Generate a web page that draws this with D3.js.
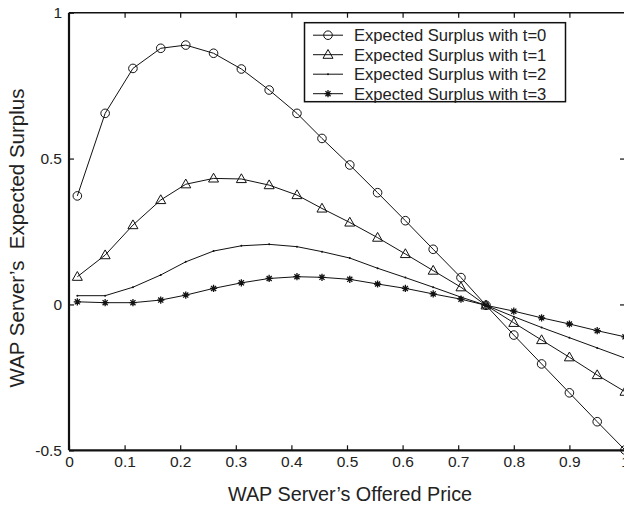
<!DOCTYPE html>
<html>
<head>
<meta charset="utf-8">
<script src="https://cdn.jsdelivr.net/npm/d3@7"></script>
<style>
  body { margin: 0; background: #fff; }
  svg { display: block; font-family: "Liberation Sans", Arial, sans-serif; }
</style>
</head>
<body>
<div id="chart"></div>
<script>
// offered price (x)
const prices = [0.015, 0.065, 0.115, 0.165, 0.21, 0.26, 0.31, 0.36, 0.41, 0.455, 0.505,
                0.555, 0.605, 0.655, 0.705, 0.75, 0.80, 0.85, 0.90, 0.95, 1.0];

// expected surplus for each t
const surplusT0 = [0.372, 0.655, 0.809, 0.878, 0.889, 0.861, 0.807, 0.735, 0.655, 0.569, 0.478,
                   0.383, 0.287, 0.189, 0.092, -0.003, -0.105, -0.204, -0.303, -0.402, -0.499];
const surplusT1 = [0.095, 0.169, 0.272, 0.358, 0.412, 0.432, 0.430, 0.409, 0.375, 0.329, 0.281,
                   0.229, 0.173, 0.116, 0.059, -0.003, -0.063, -0.122, -0.181, -0.242, -0.299];
const surplusT2 = [0.030, 0.030, 0.059, 0.101, 0.146, 0.183, 0.201, 0.206, 0.198, 0.181, 0.159,
                   0.124, 0.092, 0.059, 0.025, -0.003, -0.042, -0.079, -0.114, -0.149, -0.184];
const surplusT3 = [0.009, 0.006, 0.006, 0.015, 0.032, 0.055, 0.074, 0.089, 0.095, 0.093, 0.086,
                   0.070, 0.055, 0.036, 0.018, -0.003, -0.023, -0.046, -0.067, -0.090, -0.111];

const seriesNames = ['Expected Surplus with t=0', 'Expected Surplus with t=1',
                     'Expected Surplus with t=2', 'Expected Surplus with t=3'];
const seriesMarkers = ['circle', 'triangle', 'dot', 'star'];

const xTicks = [0, 0.1, 0.2, 0.3, 0.4, 0.5, 0.6, 0.7, 0.8, 0.9, 1];
const xTickLabels = ['0', '0.1', '0.2', '0.3', '0.4', '0.5', '0.6', '0.7', '0.8', '0.9', '1'];
const yTicks = [-0.5, 0, 0.5, 1];
const yTickLabels = ['-0.5', '0', '0.5', '1'];

const W = 624, H = 507;
const margin = { top: 12.7, right: -1, bottom: 56.7, left: 69 };
const width = W - margin.left - margin.right;
const height = H - margin.top - margin.bottom;

const svg = d3.select('#chart').append('svg')
  .attr('width', W)
  .attr('height', H);

const g = svg.append('g')
  .attr('transform', `translate(${margin.left},${margin.top})`);

const x = d3.scaleLinear().domain([0, 1]).range([0, width]);
const y = d3.scaleLinear().domain([-0.5, 1]).range([height, 0]);

// matlab style: ticks inward on all four sides
const tickLen = 5;
g.append('g')
  .attr('transform', `translate(0,${height})`)
  .call(d3.axisBottom(x).tickValues(xTicks).tickSizeInner(-tickLen).tickSizeOuter(0)
    .tickFormat((d, i) => xTickLabels[i]))
  .call(a => a.select('.domain').remove())
  .call(a => a.selectAll('text').attr('dy', '0').attr('y', 17).style('font-size', '15.5px').attr('fill', '#222'));

g.append('g')
  .call(d3.axisTop(x).tickValues(xTicks.slice(1, -1)).tickSizeInner(-tickLen).tickSizeOuter(0).tickFormat(''))
  .call(a => a.select('.domain').remove());

g.append('g')
  .call(d3.axisLeft(y).tickValues(yTicks).tickSizeInner(-tickLen).tickSizeOuter(0)
    .tickFormat((d, i) => yTickLabels[i]))
  .call(a => a.select('.domain').remove())
  .call(a => a.selectAll('text').attr('x', -7).style('font-size', '15.5px').attr('fill', '#222'));

g.append('g')
  .attr('transform', `translate(${width},0)`)
  .call(d3.axisRight(y).tickValues(yTicks.slice(1, -1)).tickSizeInner(-tickLen).tickSizeOuter(0).tickFormat(''))
  .call(a => a.select('.domain').remove());

g.selectAll('.tick line').attr('stroke', '#111').attr('stroke-width', 1.2);

// frame
g.append('line').attr('x1', 0).attr('x2', width).attr('y1', 0).attr('y2', 0)
  .attr('stroke', '#111').attr('stroke-width', 1.5);
g.append('line').attr('x1', width).attr('x2', width).attr('y1', 0).attr('y2', height)
  .attr('stroke', '#111').attr('stroke-width', 1.5);
g.append('line').attr('x1', 0).attr('x2', width).attr('y1', height).attr('y2', height)
  .attr('stroke', '#111').attr('stroke-width', 2.2);
g.append('line').attr('x1', 0).attr('x2', 0).attr('y1', 0).attr('y2', height)
  .attr('stroke', '#111').attr('stroke-width', 2.2);

const allSeries = [surplusT0, surplusT1, surplusT2, surplusT3];

const line = d3.line()
  .x((d, i) => x(prices[i]))
  .y(d => y(d));

function drawMarker(sel, type) {
  if (type === 'circle') {
    sel.append('circle').attr('r', 4.3).attr('fill', 'none').attr('stroke', '#111').attr('stroke-width', 1);
  } else if (type === 'triangle') {
    sel.append('path').attr('d', 'M0,-5.2L5,3.6L-5,3.6Z')
      .attr('fill', 'none').attr('stroke', '#111').attr('stroke-width', 1);
  } else if (type === 'dot') {
    sel.append('circle').attr('r', 1).attr('fill', '#111');
  } else if (type === 'star') {
    const r = 3.6;
    let d = '';
    for (let k = 0; k < 4; k++) {
      const a = k * Math.PI / 4;
      d += `M${-r * Math.cos(a)},${-r * Math.sin(a)}L${r * Math.cos(a)},${r * Math.sin(a)}`;
    }
    sel.append('path').attr('d', d).attr('stroke', '#111').attr('stroke-width', 1.3);
  }
}

allSeries.forEach((vals, si) => {
  g.append('path')
    .datum(vals)
    .attr('d', line)
    .attr('fill', 'none')
    .attr('stroke', '#111')
    .attr('stroke-width', 1);

  g.selectAll(`.m${si}`)
    .data(vals)
    .enter().append('g')
    .attr('class', `m${si}`)
    .attr('transform', (d, i) => `translate(${x(prices[i])},${y(d)})`)
    .each(function () { drawMarker(d3.select(this), seriesMarkers[si]); });
});

// legend
const legend = svg.append('g').attr('transform', 'translate(304.5,22.7)');
legend.append('rect')
  .attr('width', 261).attr('height', 79)
  .attr('fill', '#fff').attr('stroke', '#111').attr('stroke-width', 1.5);

seriesNames.forEach((name, i) => {
  const row = legend.append('g').attr('transform', `translate(0,${12.5 + i * 19.5})`);
  row.append('line').attr('x1', 8.5).attr('x2', 38.5)
    .attr('stroke', '#111').attr('stroke-width', 1);
  const m = row.append('g').attr('transform', 'translate(23.5,0)');
  drawMarker(m, seriesMarkers[i]);
  row.append('text')
    .attr('x', 49.5).attr('dy', '0.36em')
    .style('font-size', '16.6px').attr('fill', '#222')
    .text(name);
});

// axis titles
svg.append('text')
  .attr('x', 350).attr('y', 500.5)
  .attr('text-anchor', 'middle')
  .style('font-size', '19.8px').attr('fill', '#222')
  .text('WAP Server\u2019s Offered Price');

svg.append('text')
  .attr('transform', 'translate(24,238) rotate(-90)')
  .attr('text-anchor', 'middle')
  .style('font-size', '20.5px').attr('fill', '#222')
  .attr('xml:space', 'preserve')
  .style('white-space', 'pre')
  .text('WAP Server\u2019s  Expected Surplus');
</script>
</body>
</html>
